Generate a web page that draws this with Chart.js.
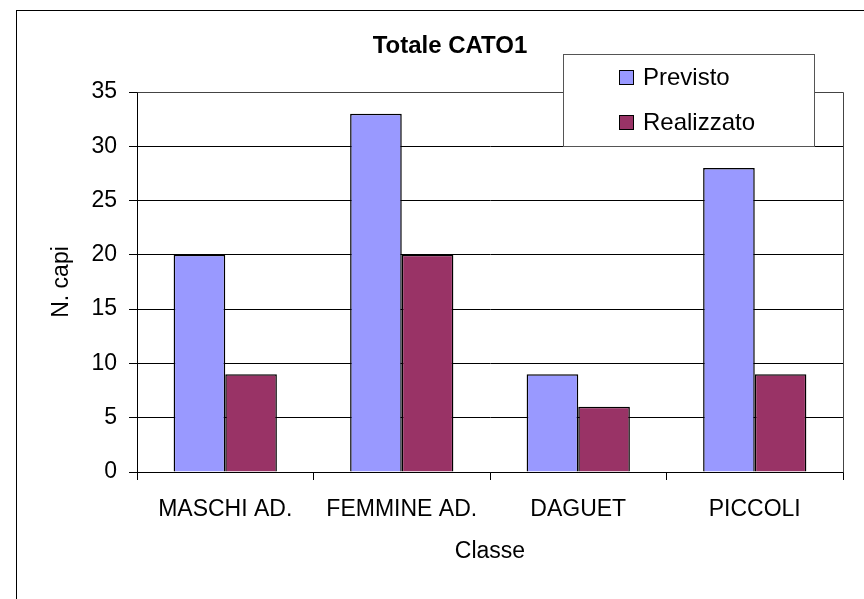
<!DOCTYPE html>
<html>
<head>
<meta charset="utf-8">
<script src="https://cdn.jsdelivr.net/npm/chart.js@4.4.1/dist/chart.umd.min.js"></script>
<style>
  html, body { margin: 0; padding: 0; background: #fff; }
  #wrap { width: 864px; height: 599px; position: relative; }
</style>
</head>
<body>
<div id="wrap"><canvas id="chart" width="864" height="599"></canvas></div>
<script>
// Data
const categories = ["MASCHI AD.", "FEMMINE AD.", "DAGUET", "PICCOLI"];
const previsto = [20, 33, 9, 28];
const realizzato = [9, 20, 6, 9];
const yTicks = [0, 5, 10, 15, 20, 25, 30, 35];
const chartTitle = "Totale CATO1";
const xTitle = "Classe";
const yTitle = "N. capi";

const FONT = "'Liberation Sans', Arial, sans-serif";

// Outer frame, title and floating legend box (Excel style)
const decor = {
  id: "decor",
  beforeDraw(chart) {
    const ctx = chart.ctx;
    ctx.save();
    ctx.fillStyle = "#fff";
    ctx.fillRect(0, 0, chart.width, chart.height);
    ctx.strokeStyle = "#000";
    ctx.lineWidth = 1;
    ctx.strokeRect(16.5, 10.5, 900, 700);
    ctx.restore();
  },
  afterDraw(chart) {
    const ctx = chart.ctx;
    const a = chart.chartArea;
    ctx.save();
    // plot area frame (top / right)
    ctx.strokeStyle = "#444";
    ctx.lineWidth = 1;
    ctx.beginPath();
    ctx.moveTo(Math.round(a.left) + 0.5, Math.round(a.top) + 0.5);
    ctx.lineTo(Math.round(a.right) + 0.5, Math.round(a.top) + 0.5);
    ctx.lineTo(Math.round(a.right) + 0.5, Math.round(a.bottom) + 0.5);
    ctx.stroke();

    // title
    ctx.fillStyle = "#000";
    ctx.font = "bold 24px " + FONT;
    ctx.textAlign = "center";
    ctx.textBaseline = "middle";
    ctx.fillText(chartTitle, 450, 46);

    // legend
    ctx.fillStyle = "#fff";
    ctx.fillRect(563, 54, 251, 92);
    ctx.strokeStyle = "#555";
    ctx.strokeRect(563.5, 54.5, 251, 92);
    ctx.font = "24px " + FONT;
    ctx.textAlign = "left";
    chart.data.datasets.forEach((ds, i) => {
      const y = 70 + i * 45;
      ctx.fillStyle = ds.backgroundColor;
      ctx.fillRect(619, y, 15, 15);
      ctx.strokeStyle = "#000";
      ctx.strokeRect(619.5, y + 0.5, 14, 14);
      ctx.fillStyle = "#000";
      ctx.fillText(ds.label, 643, y + 8);
    });
    ctx.restore();
  }
};

new Chart(document.getElementById("chart"), {
  type: "bar",
  data: {
    labels: categories,
    datasets: [
      { label: "Previsto", data: previsto, backgroundColor: "#9999FF", borderColor: "#000", borderWidth: 1.5 },
      { label: "Realizzato", data: realizzato, backgroundColor: "#993366", borderColor: "#000", borderWidth: 1.5 }
    ]
  },
  options: {
    responsive: false,
    animation: false,
    layout: { padding: { top: 92, right: 21, left: 0, bottom: 0 } },
    datasets: { bar: { categoryPercentage: 0.585, barPercentage: 1 } },
    plugins: {
      legend: { display: false },
      tooltip: { enabled: false }
    },
    scales: {
      x: {
        afterFit(s) { s.height = 127; },
        grid: { offset: true, drawOnChartArea: false, drawTicks: true, tickLength: 8, color: "#000" },
        border: { color: "#000" },
        ticks: { color: "#000", font: { family: FONT, size: 23 }, padding: 16, maxRotation: 0 },
        title: { display: true, text: xTitle, color: "#000", font: { family: FONT, size: 23 }, padding: { top: 0, bottom: 34 } }
      },
      y: {
        min: 0,
        max: 35,
        afterFit(s) { s.width = 137; },
        afterBuildTicks(s) { s.ticks = yTicks.map(v => ({ value: v })); },
        grid: { color: "#000", tickLength: 8 },
        border: { color: "#000" },
        ticks: { color: "#000", font: { family: FONT, size: 23 }, padding: 12 },
        title: { display: true, text: yTitle, color: "#000", font: { family: FONT, size: 23 }, padding: { top: 48, bottom: 0 } }
      }
    }
  },
  plugins: [decor]
});
</script>
</body>
</html>
